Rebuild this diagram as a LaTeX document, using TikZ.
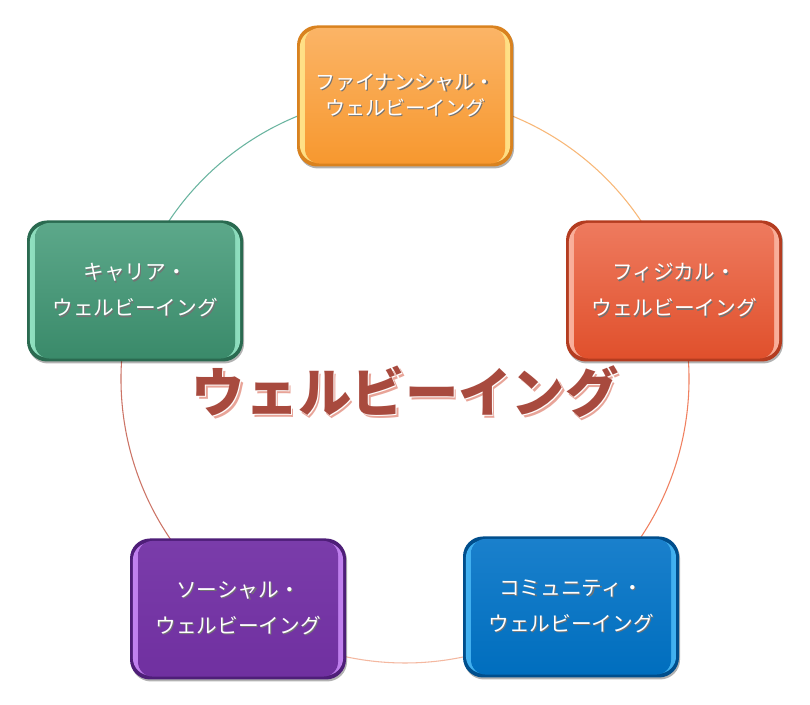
\documentclass[tikz,border=0pt]{standalone}
\usepackage{fontspec}
\newfontfamily\jp{Noto Sans CJK JP}
\usetikzlibrary{shadows,calc}
\definecolor{orB}{HTML}{F7982F}\definecolor{orL}{HTML}{FBB466}\definecolor{orE}{HTML}{D9821F}\definecolor{orH}{HTML}{FFE38A}
\definecolor{rdB}{HTML}{E0502C}\definecolor{rdL}{HTML}{EE7A5E}\definecolor{rdE}{HTML}{B43C20}\definecolor{rdH}{HTML}{FAB4A0}
\definecolor{blB}{HTML}{006EBE}\definecolor{blL}{HTML}{1A80CC}\definecolor{blE}{HTML}{004E8C}\definecolor{blH}{HTML}{45B4F2}
\definecolor{puB}{HTML}{7030A0}\definecolor{puL}{HTML}{7A3CAA}\definecolor{puE}{HTML}{4E1E78}\definecolor{puH}{HTML}{C484F2}
\definecolor{grB}{HTML}{3A8A6A}\definecolor{grL}{HTML}{5CA88A}\definecolor{grE}{HTML}{2A6A50}\definecolor{grH}{HTML}{92E2C2}
\definecolor{arcTL}{HTML}{6AB5A0}\definecolor{arcTR}{HTML}{F8B878}\definecolor{arcR}{HTML}{F08060}
\definecolor{arcB}{HTML}{F4B8A0}\definecolor{arcL}{HTML}{CC7466}
\definecolor{ttl}{HTML}{A84A3E}\definecolor{ttlsh}{HTML}{E8A498}
\newcommand\shtx[1]{\leavevmode\rlap{\kern0.9pt\raisebox{-0.9pt}{\color{black!55}#1}}#1}
\tikzset{
  wbox/.style n args={4}{rectangle, rounded corners=15pt, minimum width=162pt,
    minimum height=105.75pt, inner sep=0pt, fill=#3, text=white, align=center,
    font=\jp\fontsize{15.5}{27}\selectfont,
    drop shadow={shadow xshift=0.8pt, shadow yshift=-1.5pt, opacity=0.3, fill=black},
    path picture={
      \shade[left color=#4, right color=#4, middle color=#1, rounded corners=13pt]
        ([shift={(2.2pt,3pt)}]path picture bounding box.south west) rectangle
        ([shift={(-2.2pt,-3pt)}]path picture bounding box.north east);
      \shade[top color=#2, bottom color=#1, rounded corners=11pt]
        ([shift={(6pt,2.2pt)}]path picture bounding box.south west) rectangle
        ([shift={(-6pt,-1.8pt)}]path picture bounding box.north east);
    }},
  ring/.style={line width=0.8pt}
}
\begin{document}
\begin{tikzpicture}[x=0.75pt,y=0.75pt]
\useasboundingbox (0,0) rectangle (810,705);
\fill[white] (0,0) rectangle (810,705);
\coordinate (ctr) at (405,326);
\draw[ring, arcTL] (ctr) ++(90:213pt) arc[start angle=90, end angle=162, radius=213pt];
\draw[ring, arcTR] (ctr) ++(18:213pt) arc[start angle=18, end angle=90, radius=213pt];
\draw[ring, arcR] (ctr) ++(-54:213pt) arc[start angle=-54, end angle=18, radius=213pt];
\draw[ring, arcB] (ctr) ++(-126:213pt) arc[start angle=-126, end angle=-54, radius=213pt];
\draw[ring, arcL] (ctr) ++(162:213pt) arc[start angle=162, end angle=234, radius=213pt];

\node[wbox={orB}{orL}{orE}{orH}, font=\jp\fontsize{15}{19.5}\selectfont] (fin) at (405,609)
  {\shtx{ファイナンシャル・}\\\shtx{ウェルビーイング}};
\node[wbox={rdB}{rdL}{rdE}{rdH}] (phy) at (674,414)
  {\shtx{フィジカル・}\\\shtx{ウェルビーイング}};
\node[wbox={blB}{blL}{blE}{blH}] (com) at (571,98)
  {\shtx{コミュニティ・}\\\shtx{ウェルビーイング}};
\node[wbox={puB}{puL}{puE}{puH}] (soc) at (238,96)
  {\shtx{ソーシャル・}\\\shtx{ウェルビーイング}};
\node[wbox={grB}{grL}{grE}{grH}] (car) at (135,414)
  {\shtx{キャリア・}\\\shtx{ウェルビーイング}};

\tikzset{ttlfont/.style={font=\jp\bfseries\fontsize{40}{40}\selectfont, inner sep=0pt}}
\node[ttlfont, text=ttlsh] (titlesh) at (407.5,310.5) {ウェルビーイング};
\node[ttlfont, text=white] (titlewh) at (406.2,311.8) {ウェルビーイング};
\node[ttlfont, text=ttl] (title) at (405,313) {ウェルビーイング};
\end{tikzpicture}
\end{document}
